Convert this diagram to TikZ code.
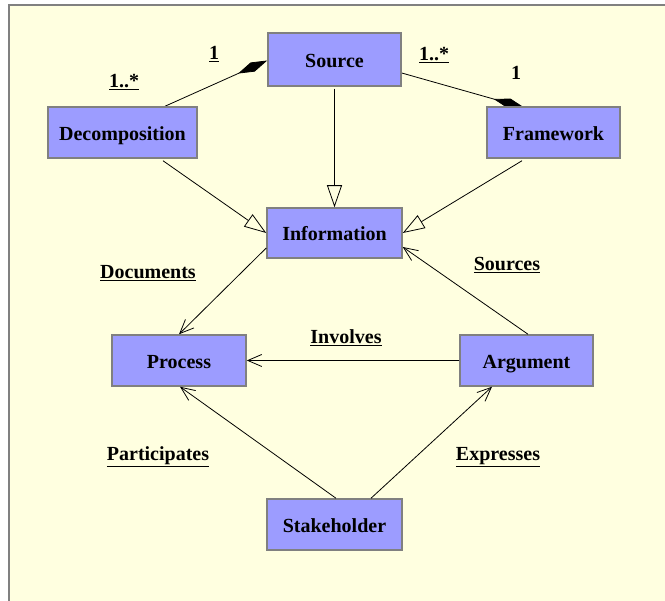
\documentclass[tikz,border=0pt]{standalone}
\usepackage{fontspec}
\setmainfont{Liberation Serif}[BoldFont={Liberation Serif Bold}]
\newfontfamily\umlfont{Liberation Serif Bold}
\usetikzlibrary{arrows.meta}
\definecolor{bgyellow}{RGB}{255,255,224}
\definecolor{boxblue}{RGB}{156,156,255}
\definecolor{boxgray}{RGB}{128,128,128}
\pgfdeclarelayer{back}
\pgfdeclarelayer{conn}
\pgfsetlayers{back,conn,main}
\tikzset{
  cls/.style={draw=boxgray, line width=1.5pt, fill=boxblue, inner sep=0pt,
    text height=16pt, text depth=0pt,
    font=\umlfont\fontsize{20}{23}\selectfont},
  lbl/.style={inner sep=0pt, font=\umlfont\fontsize{20}{23}\selectfont},
  conn/.style={draw=black, line width=0.8pt},
  gen/.style={conn, -{Triangle[open, length=22pt, width=15pt, line width=0.8pt]}},
  nav/.style={conn, -{Straight Barb[length=14pt, width=12pt, line width=0.8pt]}},
  comp/.style={conn, -{Diamond[length=32pt, width=10pt]}},
}
\begin{document}
\begin{tikzpicture}[x=1pt, y=-1pt]
\useasboundingbox (0,0) rectangle (665,601);
\begin{pgfonlayer}{back}
  \fill[white] (0,0) rectangle (665,601);
  \fill[bgyellow] (9,5) rectangle (665,601);
  \draw[boxgray, line width=1.5pt] (9,601) -- (9,5) -- (665,5);
\end{pgfonlayer}

\node[cls, minimum width=133pt, minimum height=53pt] (src) at (334.5,59.5) {Source};
\node[cls, minimum width=149pt, minimum height=51pt] (dec) at (122.5,132.5) {Decomposition};
\node[cls, minimum width=133pt, minimum height=51pt] (fw) at (553.5,132.5) {Framework};
\node[cls, minimum width=135pt, minimum height=50pt] (info) at (334.5,233) {Information};
\node[cls, minimum width=134pt, minimum height=51pt] (proc) at (179,360.5) {Process};
\node[cls, minimum width=133pt, minimum height=51pt] (arg) at (526.5,360.5) {Argument};
\node[cls, minimum width=135pt, minimum height=51pt] (stk) at (334.5,524.5) {Stakeholder};

\node[lbl] (l1) at (214,54) {\underline{1}};
\node[lbl] (l2) at (124,82) {\underline{1..*}};
\node[lbl] (l3) at (434,55) {\underline{1..*}};
\node[lbl] (l4) at (516,73) {1};
\node[lbl] (ldoc) at (148,273) {\underline{Documents}};
\node[lbl] (lsrc) at (507,265) {\underline{Sources}};
\node[lbl] (linv) at (346,338) {\underline{Involves}};
\node[lbl] (lpar) at (158,457) {\underline{Participates}};
\node[lbl] (lexp) at (498,457) {\underline{Expresses}};

\begin{pgfonlayer}{conn}
  \draw[comp] ([xshift=42.5pt]dec.north) -- ([yshift=-1pt]src.west);
  \draw[comp] ([yshift=-13.5pt]src.east) -- ([xshift=-29pt,yshift=-1.5pt]fw.north);
\end{pgfonlayer}
\draw[gen] ([yshift=-2pt]src.south) -- (info.north);
\draw[gen] ([xshift=40.5pt,yshift=-2pt]dec.south) -- (info.west);
\draw[gen] ([xshift=-31.5pt,yshift=-2pt]fw.south) -- (info.east);
\draw[nav] ([yshift=-15pt]info.west) -- (proc.north);
\draw[nav] ([xshift=1.5pt]arg.north) -- ([yshift=-14pt]info.east);
\draw[nav] (arg.west) -- (proc.east);
\draw[nav] ([xshift=1.5pt]stk.north) -- ([xshift=1pt]proc.south);
\draw[nav] ([xshift=36.5pt]stk.north) -- ([xshift=-34.5pt]arg.south);
\end{tikzpicture}
\end{document}
